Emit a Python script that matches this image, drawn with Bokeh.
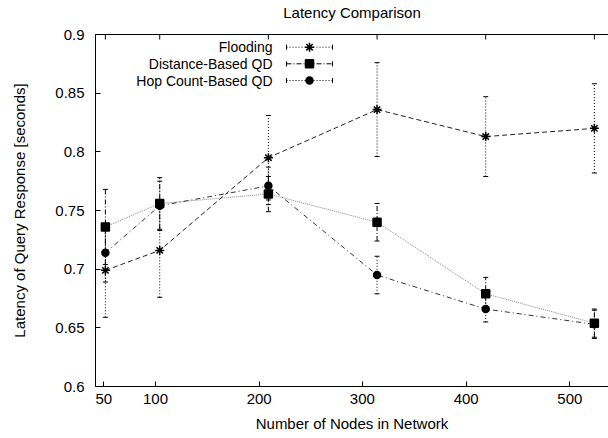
import math
from bokeh.plotting import figure
from bokeh.models import (ColumnDataSource, Range1d, FixedTicker, LinearAxis,
                          Whisker, TeeHead, NumeralTickFormatter)
from bokeh.core.properties import value
from bokeh.embed import file_html
from bokeh.resources import INLINE

# ---------------- data ----------------
title_text = "Latency Comparison"
nodes = [50, 100, 200, 300, 400, 500]
x_labels = ["50", "100", "200", "300", "400", "500"]
series_names = ["Flooding", "Distance-Based QD", "Hop Count-Based QD"]

flooding = [0.699, 0.716, 0.795, 0.836, 0.813, 0.820]
flooding_err = [0.040, 0.040, 0.036, 0.040, 0.034, 0.038]

distance = [0.736, 0.756, 0.764, 0.740, 0.679, 0.654]
distance_err = [0.032, 0.022, 0.015, 0.016, 0.014, 0.012]

hop = [0.714, 0.754, 0.771, 0.695, 0.666, 0.653]
hop_err = [0.025, 0.021, 0.016, 0.016, 0.011, 0.012]

y_ticks = [0.6, 0.65, 0.7, 0.75, 0.8, 0.85, 0.9]

# ---------------- layout / style ----------------
FONT = "Liberation Sans"
W, H = 608, 438
LEFT, RIGHT, TOP, BOTTOM = 95, 0, 34, 52
X0, X1 = 40.9, 513.0
Y0, Y1 = 0.6, 0.9
# bottom tick label positions as drawn in the reference (slightly compressed)
bottom_tick_pos = [48.5, 96.1, 191.5, 286.5, 382.0, 477.4]

FW = W - LEFT - RIGHT
FH = H - TOP - BOTTOM
SX = FW / (X1 - X0)
SY = FH / (Y1 - Y0)
TICK_PX = 5


def dx(px):
    return X0 + (px - LEFT) / SX


def dy(py):
    return Y1 - (py - TOP) / SY


p = figure(width=W, height=H, output_backend="svg", toolbar_location=None,
           x_range=Range1d(X0, X1), y_range=Range1d(Y0, Y1),
           min_border_left=LEFT, min_border_right=RIGHT,
           min_border_top=TOP, min_border_bottom=BOTTOM)
p.grid.visible = False
p.outline_line_color = None
p.background_fill_color = "white"
p.border_fill_color = "white"

# bottom axis
xa = p.xaxis[0]
xa.ticker = FixedTicker(ticks=bottom_tick_pos)
xa.major_label_overrides = {t: l for t, l in zip(bottom_tick_pos, x_labels)}
xa.axis_label = "Number of Nodes in Network"
for ax in [xa, p.yaxis[0]]:
    ax.major_tick_in = TICK_PX
    ax.major_tick_out = 0
    ax.minor_tick_in = 0
    ax.minor_tick_out = 0
    ax.major_label_text_font = FONT
    ax.major_label_text_font_size = "15px"
    ax.axis_label_text_font = FONT
    ax.axis_label_text_font_size = "15px"
    ax.axis_label_text_font_style = "normal"
    ax.axis_line_color = "black"
    ax.major_tick_line_color = "black"
    ax.major_label_text_color = "black"
    ax.axis_label_text_color = "black"
xa.major_label_standoff = 7
xa.axis_label_standoff = 8

ya = p.yaxis[0]
ya.ticker = FixedTicker(ticks=y_ticks)
ya.formatter = NumeralTickFormatter(format="0.0[0]")
ya.axis_label = "Latency of Query Response [seconds]"
ya.major_label_standoff = 11
ya.axis_label_standoff = 24

# top border: an unlabeled axis whose axis label carries the chart title
top = LinearAxis(ticker=FixedTicker(ticks=[]), axis_line_color="black",
                 major_tick_in=0, major_tick_out=0, minor_tick_in=0, minor_tick_out=0,
                 major_label_standoff=0, axis_label=title_text,
                 axis_label_text_font=FONT, axis_label_text_font_size="15px",
                 axis_label_text_font_style="normal", axis_label_text_color="black",
                 axis_label_standoff=14)
p.add_layout(top, "above")
# mirror ticks at the data positions
p.segment(x0=nodes, y0=[Y1] * len(nodes), x1=nodes, y1=[Y1 - TICK_PX / SY] * len(nodes),
          line_color="black", line_width=1)

styles = [
    dict(name=series_names[0], y=flooding, err=flooding_err, line_color="#222222",
         line_dash="5 3", err_dash="1 2", marker="asterisk", size=9),
    dict(name=series_names[1], y=distance, err=distance_err, line_color="#888888",
         line_dash="1 1", err_dash="5 2 1 2", marker="square", size=8),
    dict(name=series_names[2], y=hop, err=hop_err, line_color="#333333",
         line_dash="5 3 1 3", err_dash="1 2", marker="circle", size=7),
]

for s in styles:
    src = ColumnDataSource(dict(
        x=nodes, y=s["y"],
        upper=[v + e for v, e in zip(s["y"], s["err"])],
        lower=[v - e for v, e in zip(s["y"], s["err"])]))
    w = Whisker(source=src, base="x", upper="upper", lower="lower",
                line_color="black", line_dash=s["err_dash"], line_width=1,
                upper_head=TeeHead(size=5, line_color="black", line_width=1),
                lower_head=TeeHead(size=5, line_color="black", line_width=1))
    p.add_layout(w)
    p.line("x", "y", source=src, line_color=s["line_color"], line_dash=s["line_dash"],
           line_width=1)
    p.scatter("x", "y", source=src, marker=s["marker"], size=s["size"],
              line_color="black", fill_color="black", line_width=1.5)

# manual gnuplot-style legend (text, then sample)
row_py = [46.7, 63.3, 80.0]
text_px = 272
samp_l, samp_r, samp_m = 286, 332, 309
for s, py in zip(styles, row_py):
    yy = dy(py)
    p.text(x=[dx(text_px)], y=[yy], text=[s["name"]], text_align="right",
           text_baseline="middle", text_font=value(FONT), text_font_size="14px",
           text_color="black")
    p.segment(x0=[dx(samp_l)], y0=[yy], x1=[dx(samp_r)], y1=[yy],
              line_color="black", line_dash=s["err_dash"], line_width=1)
    p.scatter(x=[dx(samp_l), dx(samp_r)], y=[yy, yy], marker="dash", angle=math.pi / 2,
              size=5, line_color="black")
    p.scatter(x=[dx(samp_m)], y=[yy], marker=s["marker"], size=s["size"],
              line_color="black", fill_color="black", line_width=1.5)

open("out.html", "w").write(file_html(p, INLINE))
